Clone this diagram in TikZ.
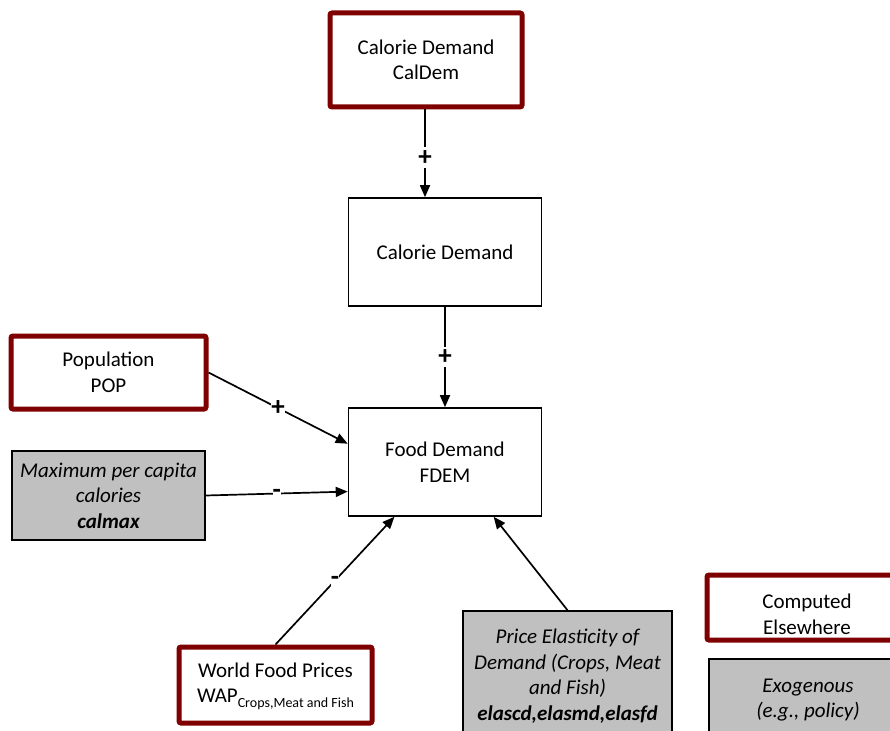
\documentclass[tikz,border=0pt]{standalone}
\usepackage{fontspec}
\setmainfont{Carlito}
\usetikzlibrary{calc,arrows.meta}

\definecolor{boxred}{HTML}{7F0000}
\definecolor{boxgray}{HTML}{C0C0C0}

\newcommand{\lines}[2][0pt]{\raisebox{#1}{\begin{tabular}{@{}c@{}}#2\end{tabular}}}

\tikzset{
  every node/.style={font=\fontsize{21}{25.5}\selectfont, align=center, inner sep=0pt},
  computed/.style={draw=boxred, line width=5pt, rounded corners=2pt, fill=white},
  internal/.style={draw=black, line width=1.6pt, fill=white},
  exogenous/.style={draw=black, line width=1.6pt, fill=boxgray, font=\fontsize{21}{25.5}\selectfont\itshape},
  link/.style={line width=1.7pt, -{Triangle[length=12pt,width=10pt]}},
  sign/.style={fill=white, inner xsep=0pt, inner ysep=3pt, font=\fontsize{27}{27}\selectfont\bfseries}
}

\begin{document}
\begin{tikzpicture}[x=1pt, y=-1pt]
  \useasboundingbox (0,0) rectangle (890,730);
  \clip (0,0) rectangle (890,730);

  % variables computed in other modules
  \node[computed, minimum width=192pt, minimum height=94pt] (caldem) at (426,60)
    {Calorie Demand\\CalDem};
  \node[computed, minimum width=195pt, minimum height=73pt] (pop) at (108.5,372.5)
    {Population\\POP};
  \node[computed, minimum width=193pt, minimum height=76pt] (wfp) at (275.5,685)
    {\lines{World Food Prices\\WAP\raisebox{-5pt}{\fontsize{14}{14}\selectfont Crops,Meat and Fish}}};

  % model quantities
  \node[internal, minimum width=193pt, minimum height=108pt] (cald) at (445,252)
    {Calorie Demand};
  \node[internal, minimum width=193pt, minimum height=108pt] (fdem) at (445,462)
    {Food Demand\\FDEM};

  % exogenous parameters
  \node[exogenous, minimum width=193pt, minimum height=89pt] (calmax) at (108.5,495.5)
    {Maximum per capita\\calories\\\textbf{calmax}};
  \node[exogenous, minimum width=209pt, minimum height=130pt] (elas) at (567.5,676)
    {Price Elasticity of\\Demand (Crops, Meat\\and Fish)\\\textbf{elascd,elasmd,elasfd}};

  % legend
  \node[computed, minimum width=200pt, minimum height=65pt] (legc) at (807,607.5) {};
  \node (legctext) at ([yshift=-7pt]legc.center) {Computed\\Elsewhere};
  \node[exogenous, minimum width=198pt, minimum height=82pt] (lege) at (808,700)
    {Exogenous\\(e.g., policy)};

  % links
  \draw[link] (caldem.south -| 425,0) -- (cald.north -| 425,0)
    node[sign, pos=0.55] {+};
  \draw[link] (cald.south) -- (fdem.north)
    node[sign, pos=0.5] {+};
  \draw[link] (pop.east) -- ($(fdem.north west)!0.333!(fdem.south west)$)
    node[sign, pos=0.5] {+};
  \draw[link] (calmax.east) -- ($(fdem.north west)!0.77!(fdem.south west)$)
    node[sign, pos=0.5] {-};
  \draw[link] (wfp.north) -- ($(fdem.south west)!0.24!(fdem.south east)$)
    node[sign, pos=0.5] {-};
  \draw[link] (elas.north) -- ($(fdem.south west)!0.75!(fdem.south east)$);
\end{tikzpicture}
\end{document}
